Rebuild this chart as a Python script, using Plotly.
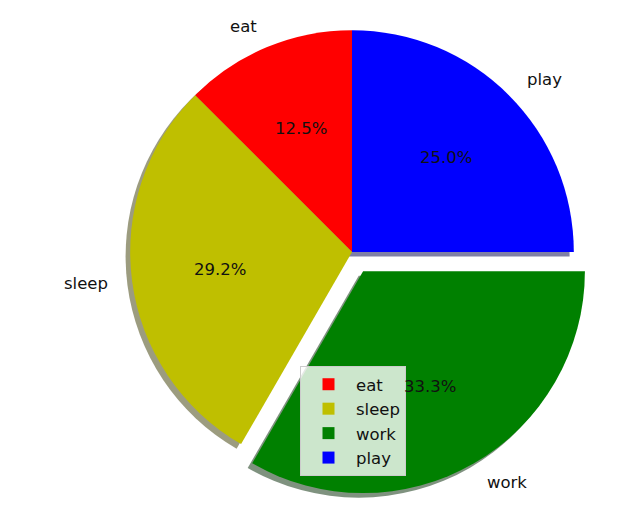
import math
import plotly.graph_objects as go

labels = ["eat", "sleep", "work", "play"]
hours = [3, 7, 8, 6]
colors = ["#ff0000", "#bfbf00", "#008000", "#0000ff"]
explode = [0, 0, 0.1, 0]

W, H = 631, 516
OFF = 8                            # default page margin of the html body
CX, CY, R = 352 - OFF, 252 - OFF, 222   # pie centre in figure pixels (from top), radius
SH = 4.4                           # shadow offset in px

total = sum(hours)
ROT = -360.0 * hours[0] / total     # first wedge starts at 12 o'clock going CCW


def hex_rgb(h):
    h = h.lstrip("#")
    return [int(h[i:i + 2], 16) for i in (0, 2, 4)]


shadow_colors = ["rgba(%d,%d,%d,0.5)" % tuple(int(0.3 * v) for v in hex_rgb(c)) for c in colors]

half = R * (1 + max(explode))


def dom(dx, dy):
    xc = (CX + dx) / W
    hx = half / W
    yc = (H - (CY + dy)) / H
    hy = half / H
    hy = min(hy, 1 - yc, yc)
    hx = min(hx, 1 - xc, xc)
    return dict(x=[xc - hx, xc + hx], y=[yc - hy, yc + hy])


fig = go.Figure()
fig.add_trace(go.Pie(
    labels=labels, values=hours, sort=False, direction="counterclockwise", rotation=ROT,
    pull=explode, marker=dict(colors=shadow_colors, line=dict(width=0)),
    textinfo="none", hoverinfo="skip", showlegend=False, domain=dom(-SH, SH)))
fig.add_trace(go.Pie(
    labels=labels, values=hours, sort=False, direction="counterclockwise", rotation=ROT,
    pull=explode, marker=dict(colors=colors, line=dict(width=0)),
    textinfo="none", hoverinfo="skip", domain=dom(0, 0)))

ann = []
start = 90.0
for lab, v, ex in zip(labels, hours, explode):
    span = 360.0 * v / total
    mid = math.radians(start + span / 2)
    start += span
    ox = CX + ex * R * math.cos(mid)
    oy = CY - ex * R * math.sin(mid)
    lx = ox + 1.1 * R * math.cos(mid)
    ly = oy - 1.1 * R * math.sin(mid)
    ann.append(dict(x=lx / W, y=1 - ly / H, xref="paper", yref="paper", text=lab,
                    showarrow=False, xanchor="left" if math.cos(mid) > 0 else "right",
                    yanchor="middle", font=dict(size=16.5, color="#111111")))
    px = ox + 0.6 * R * math.cos(mid)
    py = oy - 0.6 * R * math.sin(mid)
    ann.append(dict(x=px / W, y=1 - py / H, xref="paper", yref="paper",
                    text="%.1f%%" % (100.0 * v / total), showarrow=False,
                    xanchor="center", yanchor="middle", font=dict(size=16.5, color="#111111")))

fig.update_layout(
    width=W, height=H, margin=dict(l=0, r=0, t=0, b=0),
    paper_bgcolor="white", plot_bgcolor="white",
    font=dict(family="DejaVu Sans", size=14, color="#111111"),
    annotations=ann,
    legend=dict(x=(300 - OFF) / W, y=1 - (366 - OFF) / H, xanchor="left", yanchor="top",
                bgcolor="rgba(255,255,255,0.8)", bordercolor="#cccccc", borderwidth=1,
                itemwidth=45, font=dict(size=16.5, color="#111111"), traceorder="normal"),
)

fig.write_html("out.html")
